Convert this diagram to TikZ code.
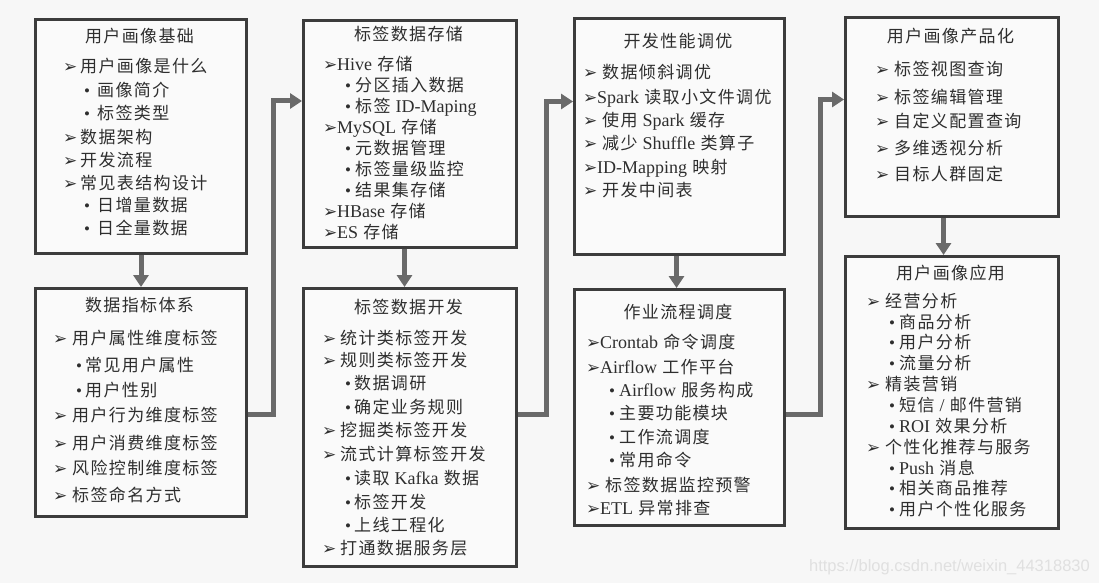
\documentclass[tikz,border=0pt]{standalone}
\usepackage{fontspec}
\setmainfont{Liberation Serif}
\newfontfamily\cjk[LetterSpace=8]{Noto Sans CJK SC}
\newfontfamily\dv{DejaVu Sans}
\newfontfamily\wm{Liberation Sans}
\usetikzlibrary{arrows.meta}
\definecolor{bgc}{HTML}{F7F7F7}
\definecolor{boxfill}{HTML}{FAFAFA}
\definecolor{boxline}{HTML}{3C3C3C}
\definecolor{conncol}{HTML}{6A6A6A}
\definecolor{textc}{HTML}{2E2E2E}
\definecolor{wmc}{HTML}{E0E0E0}
\newcommand\lat[1]{{\rmfamily\fontsize{18}{20}\selectfont #1}}
\newcommand\arr{{\dv\fontsize{17}{17}\selectfont ➢}}
\newcommand\bul{{\rmfamily •}}
\def\ax{0}\def\ag{17}\def\bx{0}\def\bg{10}
\newcommand\ia[4][\ag]{\node[txt] (#2) at (\ax,#3+6) {\makebox[#1 pt][l]{\arr}#4};}
\newcommand\ib[3]{\node[txt] (#1) at (\bx,#2+6) {\makebox[\bg pt][l]{\bul}#3};}
\tikzset{
  txt/.style={anchor=base west, inner sep=0pt, text=textc, font=\cjk\fontsize{17}{20}\selectfont},
  ttl/.style={anchor=base, inner sep=0pt, text=textc, font=\cjk\fontsize{17}{20}\selectfont},
  box/.style={draw=boxline, fill=boxfill, line width=3pt, anchor=north west, inner sep=0pt},
  conn/.style={draw=conncol, line width=5pt, -{Triangle[length=12pt,width=15pt]}},
}
\begin{document}
\begin{tikzpicture}[x=1pt,y=-1pt]
\path[fill=bgc, use as bounding box] (0,0) rectangle (1099,583);
% boxes
\node[box, minimum width=211pt, minimum height=234pt] (A) at (34,18) {};
\node[box, minimum width=211pt, minimum height=228pt] (B) at (34,287) {};
\node[box, minimum width=213pt, minimum height=227pt] (C) at (302,19) {};
\node[box, minimum width=213pt, minimum height=278pt] (D) at (302,287) {};
\node[box, minimum width=210pt, minimum height=236pt] (E) at (573,17) {};
\node[box, minimum width=210pt, minimum height=236pt] (F) at (573,288) {};
\node[box, minimum width=213pt, minimum height=199pt] (G) at (844,16) {};
\node[box, minimum width=213pt, minimum height=272pt] (H) at (844,255) {};
% connectors
\draw[conn] (A.south) -- (B.north);
\draw[conn] ([xshift=-5.5pt]C.south) -- ([xshift=-5.5pt]C.south |- D.north);
\draw[conn] ([xshift=-3pt]E.south) -- ([xshift=-3pt]E.south |- F.north);
\draw[conn] ([xshift=-8.5pt]G.south) -- ([xshift=-8.5pt]G.south |- H.north);
\draw[conn] ([yshift=-12pt]B.east) -- ++(25,0) |- ([yshift=33pt]C.west);
\draw[conn] ([yshift=13pt]D.east) -- ++(28,0) |- ([yshift=35pt]E.west);
\draw[conn] ([yshift=-7pt]F.east) -- ++(34,0) |- ([yshift=17.5pt]G.west);
% Box A
\node[ttl] (At) at (139.5,37+6) {用户画像基础};
\def\ax{63}\def\ag{17}\def\bx{84}\def\bg{13}
\ia{a1}{67}{用户画像是什么}
\ib{a2}{90}{画像简介}
\ib{a3}{113}{标签类型}
\ia{a4}{137}{数据架构}
\ia{a5}{160}{开发流程}
\ia{a6}{183}{常见表结构设计}
\ib{a7}{205}{日增量数据}
\ib{a8}{228}{日全量数据}
% Box B
\node[ttl] (Bt) at (139.5,305+6) {数据指标体系};
\def\ax{53}\def\ag{19}\def\bx{76}\def\bg{9}
\ia{b1}{338}{用户属性维度标签}
\ib{b2}{365}{常见用户属性}
\ib{b3}{390}{用户性别}
\ia{b4}{415}{用户行为维度标签}
\ia{b5}{443}{用户消费维度标签}
\ia{b6}{468}{风险控制维度标签}
\ia{b7}{495}{标签命名方式}
% Box C
\node[ttl] (Ct) at (408.5,35+6) {标签数据存储};
\def\ax{323}\def\ag{14}\def\bx{345}\def\bg{10}
\ia{c1}{65}{\lat{Hive} 存储}
\ib{c2}{86}{分区插入数据}
\ib{c3}{107}{标签 \lat{ID-Maping}}
\ia{c4}{127}{\lat{MySQL} 存储}
\ib{c5}{148}{元数据管理}
\ib{c6}{169}{标签量级监控}
\ib{c7}{190}{结果集存储}
\ia{c8}{211}{\lat{HBase} 存储}
\ia{c9}{232}{\lat{ES} 存储}
% Box D
\node[ttl] (Dt) at (408.5,307+6) {标签数据开发};
\def\ax{322}\def\ag{18}\def\bx{345}\def\bg{9}
\ia{d1}{338}{统计类标签开发}
\ia{d2}{360}{规则类标签开发}
\ib{d3}{383}{数据调研}
\ib{d4}{407}{确定业务规则}
\ia{d5}{430}{挖掘类标签开发}
\ia{d6}{454}{流式计算标签开发}
\ib{d7}{478}{读取 \lat{Kafka} 数据}
\ib{d8}{502}{标签开发}
\ib{d9}{525}{上线工程化}
\ia{d10}{548}{打通数据服务层}
% Box E
\node[ttl] (Et) at (678,42+6) {开发性能调优};
\def\ax{583}\def\ag{19}
\ia{e1}{73}{数据倾斜调优}
\ia[14]{e2}{97}{\lat{Spark} 读取小文件调优}
\ia{e3}{120}{使用 \lat{Spark} 缓存}
\ia{e4}{143}{减少 \lat{Shuffle} 类算子}
\ia[14]{e5}{167}{\lat{ID-Mapping} 映射}
\ia{e6}{190}{开发中间表}
% Box F
\node[ttl] (Ft) at (678,312+6) {作业流程调度};
\def\ax{586}\def\ag{14}\def\bx{609}\def\bg{10}
\ia{f1}{342}{\lat{Crontab} 命令调度}
\ia{f2}{367}{\lat{Airflow} 工作平台}
\ib{f3}{390}{\lat{Airflow} 服务构成}
\ib{f4}{413}{主要功能模块}
\ib{f5}{437}{工作流调度}
\ib{f6}{460}{常用命令}
\ia[19]{f7}{485}{标签数据监控预警}
\ia{f8}{508}{\lat{ETL} 异常排查}
% Box G
\node[ttl] (Gt) at (950.5,37+6) {用户画像产品化};
\def\ax{875}\def\ag{19}
\ia{g1}{70}{标签视图查询}
\ia{g2}{97}{标签编辑管理}
\ia{g3}{122}{自定义配置查询}
\ia{g4}{148}{多维透视分析}
\ia{g5}{174}{目标人群固定}
% Box H
\node[ttl] (Ht) at (950.5,273+6) {用户画像应用};
\def\ax{866}\def\ag{19}\def\bx{889}\def\bg{10}
\ia{h1}{301}{经营分析}
\ib{h2}{322}{商品分析}
\ib{h3}{342}{用户分析}
\ib{h4}{363}{流量分析}
\ia{h5}{384}{精装营销}
\ib{h6}{405}{短信 \lat{/} 邮件营销}
\ib{h7}{426}{\lat{ROI} 效果分析}
\ia{h8}{447}{个性化推荐与服务}
\ib{h9}{468}{\lat{Push} 消息}
\ib{h10}{488}{相关商品推荐}
\ib{h11}{509}{用户个性化服务}
% watermark
\node[anchor=base east, inner sep=0pt, text=wmc, font=\wm\fontsize{16.5}{18}\selectfont] (wm) at (1090,571) {https://blog.csdn.net/weixin\_44318830};
\end{tikzpicture}
\end{document}
